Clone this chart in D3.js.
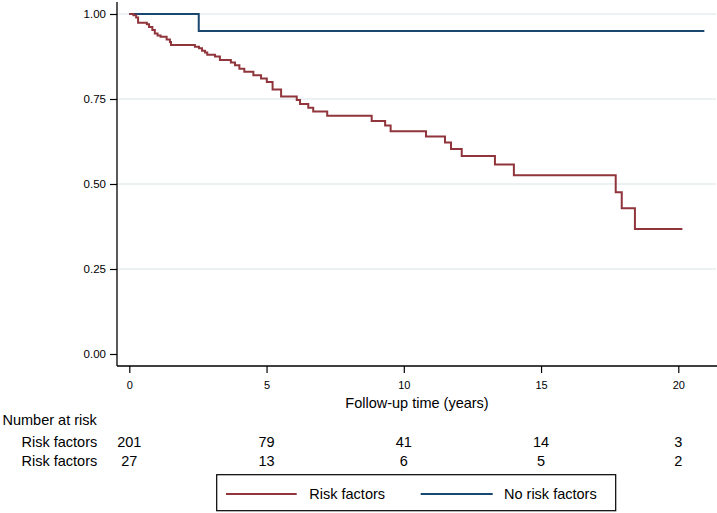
<!DOCTYPE html>
<html>
<head>
<meta charset="utf-8">
<script src="https://cdn.jsdelivr.net/npm/d3@7"></script>
<style>
  html, body { margin: 0; padding: 0; background: #fff; }
  svg { display: block; }
  text { font-family: "Liberation Sans", Arial, sans-serif; fill: #000; }
</style>
</head>
<body>
<svg id="chart" width="717" height="513"></svg>
<script>
// ---- Data ----
const riskTimes = [0, 0.15, 0.25, 0.32, 0.64, 0.72, 0.84, 0.93, 1.03, 1.14, 1.36, 1.48, 1.52,
  2.39, 2.54, 2.65, 2.76, 2.84, 3.12, 3.30, 3.70, 3.85, 4.01, 4.19, 4.52, 4.80, 5.01, 5.22,
  5.53, 6.10, 6.22, 6.52, 6.70, 7.21, 8.83, 9.32, 9.52, 10.81, 11.50, 11.72, 12.11, 13.32,
  14.01, 17.72, 17.94, 18.42, 20.15];
const riskSurv = [1.0, 0.996, 0.99, 0.974, 0.970, 0.962, 0.953, 0.943, 0.937, 0.933, 0.925, 0.918, 0.909,
  0.904, 0.899, 0.892, 0.887, 0.880, 0.875, 0.865, 0.857, 0.849, 0.839, 0.830, 0.820, 0.810, 0.800, 0.778,
  0.757, 0.747, 0.735, 0.724, 0.713, 0.701, 0.685, 0.672, 0.655, 0.640, 0.622, 0.603, 0.582, 0.557,
  0.526, 0.476, 0.429, 0.368, 0.368];
const noRiskTimes = [0, 2.53, 20.95];
const noRiskSurv = [1.0, 0.95, 0.95];

const xTicks = [0, 5, 10, 15, 20];
const yTicks = [0, 0.25, 0.5, 0.75, 1.0];
const yGrid = [0.25, 0.5, 0.75, 1.0];
const riskRowLabels = ["Risk factors", "Risk factors"];
const atRiskRisk = [201, 79, 41, 14, 3];
const atRiskNoRisk = [27, 13, 6, 5, 2];
const legendLabels = ["Risk factors", "No risk factors"];

const colRisk = "#90353b";
const colNoRisk = "#1a476f";

// ---- Layout ----
const svg = d3.select("#chart");
const x = d3.scaleLinear().domain([0, 20]).range([129.3, 678.3]);
const y = d3.scaleLinear().domain([0, 1]).range([354, 14]);
const plotLeft = 117, plotRight = 717, plotTop = 2, plotBottom = 366;

// gridlines
svg.append("g").selectAll("line").data(yGrid).join("line")
  .attr("x1", plotLeft).attr("x2", plotRight - 1)
  .attr("y1", d => y(d)).attr("y2", d => y(d))
  .attr("stroke", "#e6edf0").attr("stroke-width", 1.5);

// y axis
const yAxis = svg.append("g").attr("transform", `translate(${plotLeft},0)`)
  .call(d3.axisLeft(y).tickValues(yTicks).tickFormat(d3.format(".2f")).tickSize(7).tickPadding(4).tickSizeOuter(0));
yAxis.select(".domain").remove();
yAxis.selectAll(".tick line").attr("stroke", "#000").attr("stroke-width", 1.2);
yAxis.selectAll("text").style("font-size", "11.5px").attr("fill", "#000")
  .style("font-family", '"Liberation Sans", Arial, sans-serif');

// x axis
const xAxis = svg.append("g").attr("transform", `translate(0,${plotBottom})`)
  .call(d3.axisBottom(x).tickValues(xTicks).tickFormat(d3.format("d")).tickSize(7).tickPadding(8).tickSizeOuter(0));
xAxis.select(".domain").remove();
xAxis.selectAll(".tick line").attr("stroke", "#000").attr("stroke-width", 1.2);
xAxis.selectAll("text").style("font-size", "11px").attr("fill", "#000")
  .style("font-family", '"Liberation Sans", Arial, sans-serif');

// axis lines
svg.append("line").attr("x1", plotLeft).attr("x2", plotLeft).attr("y1", plotTop).attr("y2", plotBottom)
  .attr("stroke", "#000").attr("stroke-width", 1.3);
svg.append("line").attr("x1", plotLeft).attr("x2", plotRight).attr("y1", plotBottom).attr("y2", plotBottom)
  .attr("stroke", "#000").attr("stroke-width", 1.3);

// x title
svg.append("text").attr("x", 417).attr("y", 407.5).attr("text-anchor", "middle")
  .style("font-size", "14.5px").text("Follow-up time (years)");

// survival curves
const line = d3.line().x(d => x(d[0])).y(d => y(d[1])).curve(d3.curveStepAfter);
const riskData = riskTimes.map((t, i) => [t, riskSurv[i]]);
const noRiskData = noRiskTimes.map((t, i) => [t, noRiskSurv[i]]);

svg.append("path").datum(noRiskData).attr("d", line)
  .attr("fill", "none").attr("stroke", colNoRisk).attr("stroke-width", 2);
svg.append("path").datum(riskData).attr("d", line)
  .attr("fill", "none").attr("stroke", colRisk).attr("stroke-width", 2);

// number at risk table
svg.append("text").attr("x", 2.5).attr("y", 424.5).style("font-size", "14.5px").text("Number at risk");
const rows = [atRiskRisk, atRiskNoRisk];
const rowY = [446.7, 465.6];
rows.forEach((vals, r) => {
  svg.append("text").attr("x", 21.5).attr("y", rowY[r]).style("font-size", "14.5px").text(riskRowLabels[r]);
  svg.append("g").selectAll("text").data(vals).join("text")
    .attr("x", (d, i) => x(xTicks[i])).attr("y", rowY[r])
    .attr("text-anchor", "middle").style("font-size", "14.5px").text(d => d);
});

// legend
const lg = svg.append("g");
lg.append("rect").attr("x", 216.7).attr("y", 474.7).attr("width", 399).attr("height", 36)
  .attr("fill", "#fff").attr("stroke", "#000").attr("stroke-width", 1.2);
const legItems = [
  { label: legendLabels[0], color: colRisk, x1: 226, x2: 296.7, tx: 309.3 },
  { label: legendLabels[1], color: colNoRisk, x1: 420.7, x2: 492.7, tx: 504 }
];
legItems.forEach(it => {
  lg.append("line").attr("x1", it.x1).attr("x2", it.x2).attr("y1", 494).attr("y2", 494)
    .attr("stroke", it.color).attr("stroke-width", 2);
  lg.append("text").attr("x", it.tx).attr("y", 499.3).style("font-size", "14.5px").text(it.label);
});
</script>
</body>
</html>
